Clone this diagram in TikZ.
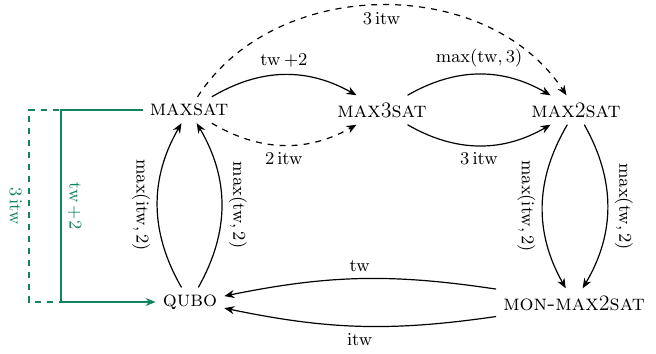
\documentclass[tikz,border=0pt]{standalone}
\usepackage{amsmath}
\usetikzlibrary{arrows.meta,calc}
\DeclareMathOperator{\tw}{tw}
\DeclareMathOperator{\itw}{itw}
\definecolor{grn}{RGB}{16,132,96}
\tikzset{
  prob/.style={inner sep=3.4pt,font=\fontsize{11}{13}\selectfont},
  arr/.style={semithick,-{Stealth[length=5pt,width=4pt]}},
  lab/.style={font=\small},
  vlab/.style={font=\small,rotate=-90},
}
\begin{document}
\begin{tikzpicture}[x=0.5pt,y=-0.5pt]
\useasboundingbox (0,0) rectangle (656,353);
\node[prob] (maxsat) at (189,110) {\textsc{maxsat}};
\node[prob] (max3) at (382,110) {\textsc{max}3\textsc{sat}};
\node[prob] (max2) at (576,110) {\textsc{max}2\textsc{sat}};
\node[prob] (qubo) at (190,302) {\textsc{qubo}};
\node[prob] (mon) at (574,303) {\textsc{mon-max}2\textsc{sat}};
% top row
\draw[arr] (maxsat) to[bend left=30] node[lab,above] {$\tw+2$} (max3);
\draw[arr,dashed] (maxsat) to[bend right=30] node[lab,below] {$2\itw$} (max3);
\draw[arr] (max3) to[bend left=30] node[lab,above] {$\max(\tw,3)$} (max2);
\draw[arr] (max3) to[bend right=30] node[lab,below] {$3\itw$} (max2);
\draw[arr,dashed] (maxsat) to[bend left=57] node[lab,below] {$3\itw$} (max2);
% verticals
\draw[arr] (qubo) to[bend left=30] node[vlab,anchor=north] {$\max(\itw,2)$} (maxsat);
\draw[arr] (qubo) to[bend right=30] node[vlab,anchor=south] {$\max(\tw,2)$} (maxsat);
\draw[arr] (max2) to[bend right=30] node[vlab,anchor=north] {$\max(\itw,2)$} (mon);
\draw[arr] (max2) to[bend left=30] node[vlab,anchor=south] {$\max(\tw,2)$} (mon);
% bottom
\draw[arr] (mon) to[bend right=10] node[lab,above] {$\tw$} (qubo);
\draw[arr] (mon) to[bend left=10] node[lab,below] {$\itw$} (qubo);
% green
\coordinate (gs1) at (61,110);
\coordinate (gs2) at (61,302);
\coordinate (gd1) at (29,110);
\coordinate (gd2) at (29,302);
\draw[grn,semithick,dashed] (maxsat.west) -- (gd1) -- (gd2) -- (gs2);
\draw[grn,semithick,-{Stealth[length=5pt,width=4pt]}] (maxsat.west) -- (gs1) -- (gs2) -- (qubo.west);
\node[vlab,text=grn,anchor=south] (gl1) at ($(gs1)!0.5!(gs2)$) {$\tw+2$};
\node[vlab,text=grn,anchor=north] (gl2) at ($(gd1)!0.5!(gd2)$) {$3\itw$};
\end{tikzpicture}
\end{document}
